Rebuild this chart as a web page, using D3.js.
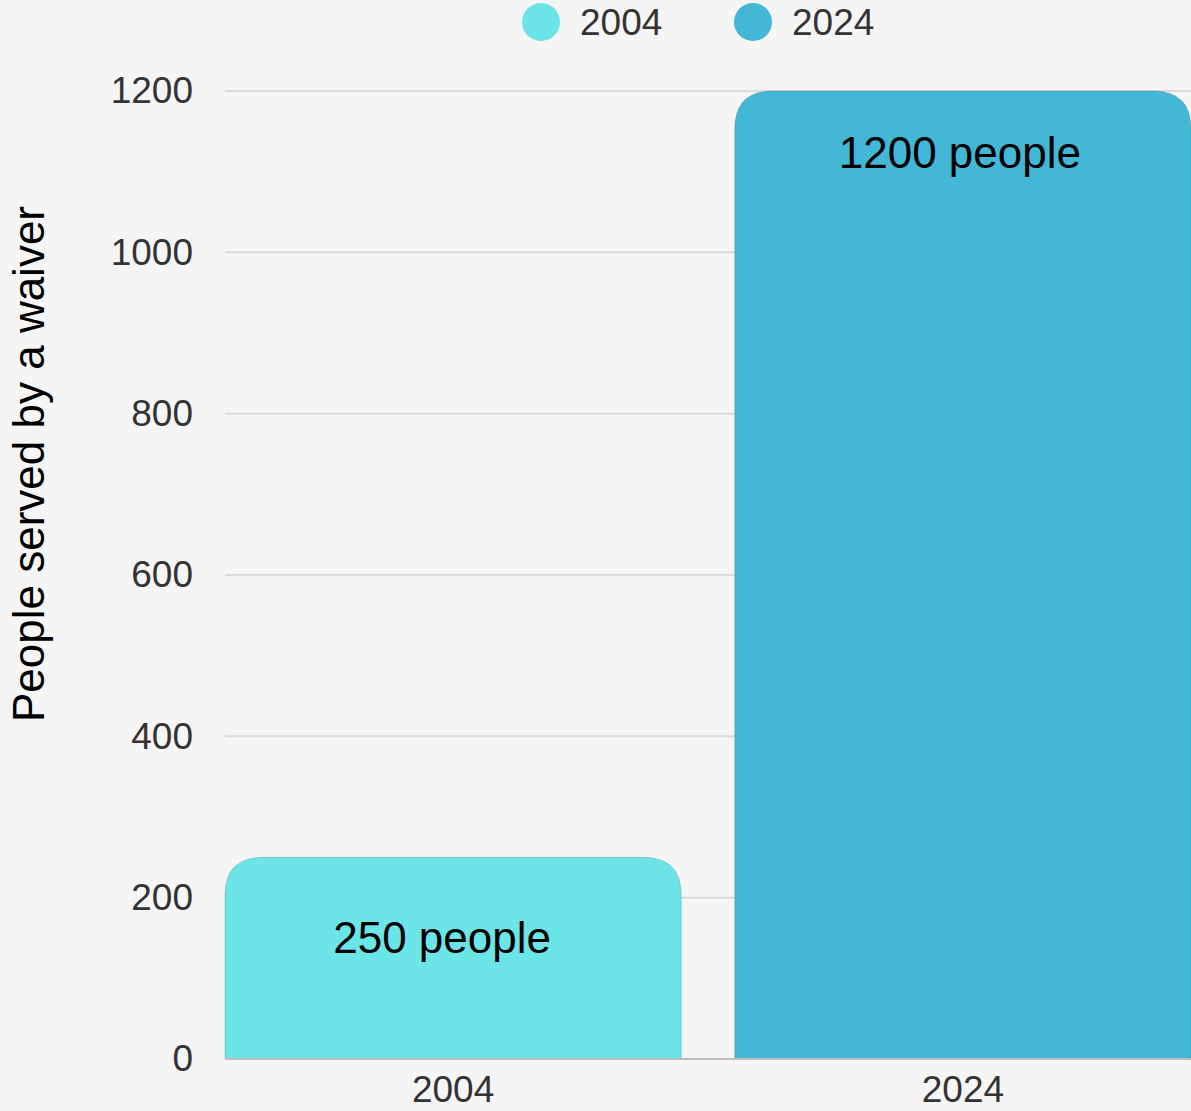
<!DOCTYPE html>
<html>
<head>
<meta charset="utf-8">
<script src="https://cdn.jsdelivr.net/npm/d3@7"></script>
<style>
  html, body { margin: 0; padding: 0; background: #f5f5f5; }
  svg { display: block; }
</style>
</head>
<body>
<div id="chart"></div>
<script>
// Chart data
const categories = ['2004', '2024'];
const values = [250, 1200];
const barLabels = ['250 people', '1200 people'];
const colors = ['#6be5e8', '#42b7d6'];
const yTicks = [0, 200, 400, 600, 800, 1000, 1200];
const yTitle = 'People served by a waiver';

const width = 1191, height = 1111;
const margin = { top: 91, right: 0, bottom: 52, left: 225 };

const svg = d3.select('#chart').append('svg')
  .attr('width', width)
  .attr('height', height)
  .style('background', '#f5f5f5');

const x = d3.scaleBand()
  .domain(categories)
  .range([margin.left, width - margin.right])
  .paddingInner(0.105)
  .paddingOuter(0);

const y = d3.scaleLinear()
  .domain([0, 1200])
  .range([height - margin.bottom, margin.top]);

// Grid lines
svg.append('g')
  .selectAll('line')
  .data(yTicks.filter(d => d > 0))
  .join('line')
  .attr('x1', margin.left)
  .attr('x2', width)
  .attr('y1', d => y(d))
  .attr('y2', d => y(d))
  .attr('stroke', '#dadada')
  .attr('stroke-width', 2);

// Y axis (labels only)
const yAxis = svg.append('g')
  .attr('transform', `translate(${margin.left},0)`)
  .call(d3.axisLeft(y).tickValues(yTicks).tickFormat(d3.format('d')).tickSize(0).tickPadding(32));
yAxis.select('.domain').remove();
yAxis.selectAll('text')
  .attr('font-family', 'Arial, "Liberation Sans", sans-serif')
  .attr('font-size', 37)
  .attr('fill', '#333');

// Bars with rounded top corners
function topRounded(x0, y0, w, h, r) {
  r = Math.min(r, h, w / 2);
  return `M${x0},${y0 + h}V${y0 + r}Q${x0},${y0} ${x0 + r},${y0}` +
    `H${x0 + w - r}Q${x0 + w},${y0} ${x0 + w},${y0 + r}V${y0 + h}Z`;
}

svg.append('g')
  .selectAll('path')
  .data(categories)
  .join('path')
  .attr('d', (d, i) => topRounded(x(d), y(values[i]), x.bandwidth(), y(0) - y(values[i]), 38))
  .attr('fill', (d, i) => colors[i])
  .attr('stroke', 'rgba(0,0,0,0.15)')
  .attr('stroke-width', 1);

// X axis
const xAxis = svg.append('g')
  .attr('transform', `translate(0,${y(0)})`)
  .call(d3.axisBottom(x).tickSize(0).tickPadding(17));
xAxis.select('.domain')
  .attr('stroke', '#bdbdbd')
  .attr('stroke-width', 2)
  .attr('d', `M${margin.left},0H${width}`);
xAxis.selectAll('text')
  .attr('font-family', 'Arial, "Liberation Sans", sans-serif')
  .attr('font-size', 37)
  .attr('fill', '#333');

// Bar value labels
const labelOffsets = [96, 77];
svg.append('g')
  .selectAll('text')
  .data(categories)
  .join('text')
  .attr('x', (d, i) => x(d) + x.bandwidth() / 2 - (i === 0 ? 11 : 3))
  .attr('y', (d, i) => y(values[i]) + labelOffsets[i])
  .attr('text-anchor', 'middle')
  .attr('font-family', 'Arial, "Liberation Sans", sans-serif')
  .attr('font-size', 44)
  .attr('fill', '#000')
  .text((d, i) => barLabels[i]);

// Y axis title
svg.append('text')
  .attr('transform', `translate(44,${(y(0) + y(1200)) / 2 - 111}) rotate(-90)`)
  .attr('text-anchor', 'middle')
  .attr('font-family', 'Arial, "Liberation Sans", sans-serif')
  .attr('font-size', 44)
  .attr('fill', '#000')
  .text(yTitle);

// Legend
const legendX = [541, 753];
const legend = svg.append('g')
  .selectAll('g')
  .data(categories)
  .join('g')
  .attr('transform', (d, i) => `translate(${legendX[i]},22)`);
legend.append('circle')
  .attr('r', 19)
  .attr('fill', (d, i) => colors[i]);
legend.append('text')
  .attr('x', 39)
  .attr('y', 13)
  .attr('font-family', 'Arial, "Liberation Sans", sans-serif')
  .attr('font-size', 37)
  .attr('fill', '#333')
  .text(d => d);
</script>
</body>
</html>
